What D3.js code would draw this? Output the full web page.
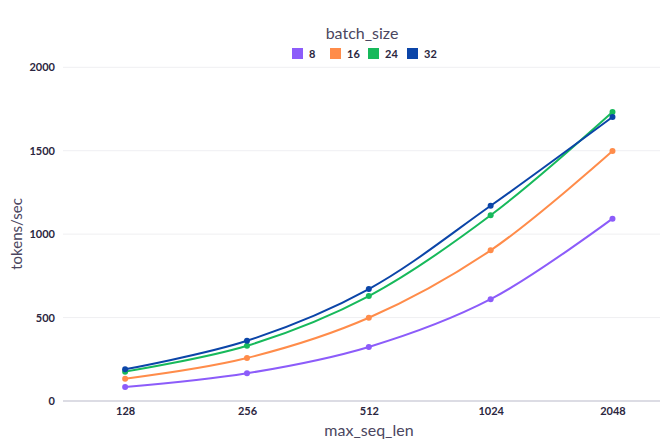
<!DOCTYPE html>
<html><head><meta charset="utf-8">
<script src="https://cdn.jsdelivr.net/npm/d3@7"></script>
<style>body{margin:0;background:#fff}svg{display:block}</style>
</head><body>
<script>
const seqLens = [128, 256, 512, 1024, 2048];
const batchSizes = ["8", "16", "24", "32"];
const bs8  = [84, 166, 324, 610, 1093];
const bs16 = [134, 258, 499, 903, 1498];
const bs24 = [176, 331, 629, 1113, 1732];
const bs32 = [190, 361, 671, 1170, 1702];
const yTicks = [0, 500, 1000, 1500, 2000];
const colors = ["#8c5cfa", "#ff8c4a", "#17b95b", "#0b45a8"];
const seriesValues = [bs8, bs16, bs24, bs32];

const W = 664, H = 439;
const svg = d3.select("body").append("svg").attr("width", W).attr("height", H);
const font = "Lato, 'Open Sans', sans-serif";

const x = d3.scaleLog().base(2).domain([128 / Math.pow(2, 0.51), 2048 * Math.pow(2, 0.39)]).range([63, 660]);
const y = d3.scaleLinear().domain([0, 2000]).range([401, 67.3]);

// gridlines
svg.append("g").selectAll("line").data(yTicks).join("line")
  .attr("x1", 63).attr("x2", 660)
  .attr("y1", d => y(d)).attr("y2", d => y(d))
  .attr("stroke", d => d === 0 ? "#dcdce4" : "#efeff2")
  .attr("stroke-width", d => d === 0 ? 2 : 1);

// y axis labels
const yAxis = d3.axisLeft(y).tickValues(yTicks).tickSize(0).tickPadding(8).tickFormat(d3.format("d"));
const gy = svg.append("g").attr("transform", "translate(63,0)").call(yAxis);
gy.select(".domain").remove();
gy.selectAll("text").attr("font-family", font).attr("font-weight", 700).attr("font-size", 11).attr("fill", "#2b2640");

// x axis labels
const xAxis = d3.axisBottom(x).tickValues(seqLens).tickSize(0).tickPadding(6).tickFormat(d3.format("d"));
const gx = svg.append("g").attr("transform", "translate(0,401)").call(xAxis);
gx.select(".domain").remove();
gx.selectAll("text").attr("font-family", font).attr("font-weight", 700).attr("font-size", 11).attr("fill", "#2b2640");

// axis titles
svg.append("text").attr("x", 369).attr("y", 436).attr("text-anchor", "middle")
  .attr("font-family", font).attr("font-size", 16).attr("fill", "#4b4660").text("max_seq_len");
svg.append("text").attr("transform", "translate(22,234) rotate(-90)").attr("text-anchor", "middle")
  .attr("font-family", font).attr("font-size", 15).attr("fill", "#4b4660").text("tokens/sec");

// lines
const line = d3.line().x((d, i) => x(seqLens[i])).y(d => y(d)).curve(d3.curveCatmullRom.alpha(0.5));
seriesValues.forEach((vals, k) => {
  svg.append("path").datum(vals).attr("d", line).attr("fill", "none")
    .attr("stroke", colors[k]).attr("stroke-width", 2);
  svg.append("g").selectAll("circle").data(vals).join("circle")
    .attr("cx", (d, i) => x(seqLens[i])).attr("cy", d => y(d)).attr("r", 3)
    .attr("fill", colors[k]);
});

// legend
svg.append("text").attr("x", 362).attr("y", 39).attr("text-anchor", "middle")
  .attr("font-family", font).attr("font-size", 16).attr("fill", "#4b4660").text("batch_size");
const legX = [292, 330, 368, 407];
batchSizes.forEach((b, k) => {
  svg.append("rect").attr("x", legX[k]).attr("y", 48).attr("width", 11).attr("height", 11).attr("fill", colors[k]);
  svg.append("text").attr("x", legX[k] + 17).attr("y", 57.5)
    .attr("font-family", font).attr("font-weight", 700).attr("font-size", 11).attr("fill", "#2b2640").text(b);
});
</script>
</body></html>
